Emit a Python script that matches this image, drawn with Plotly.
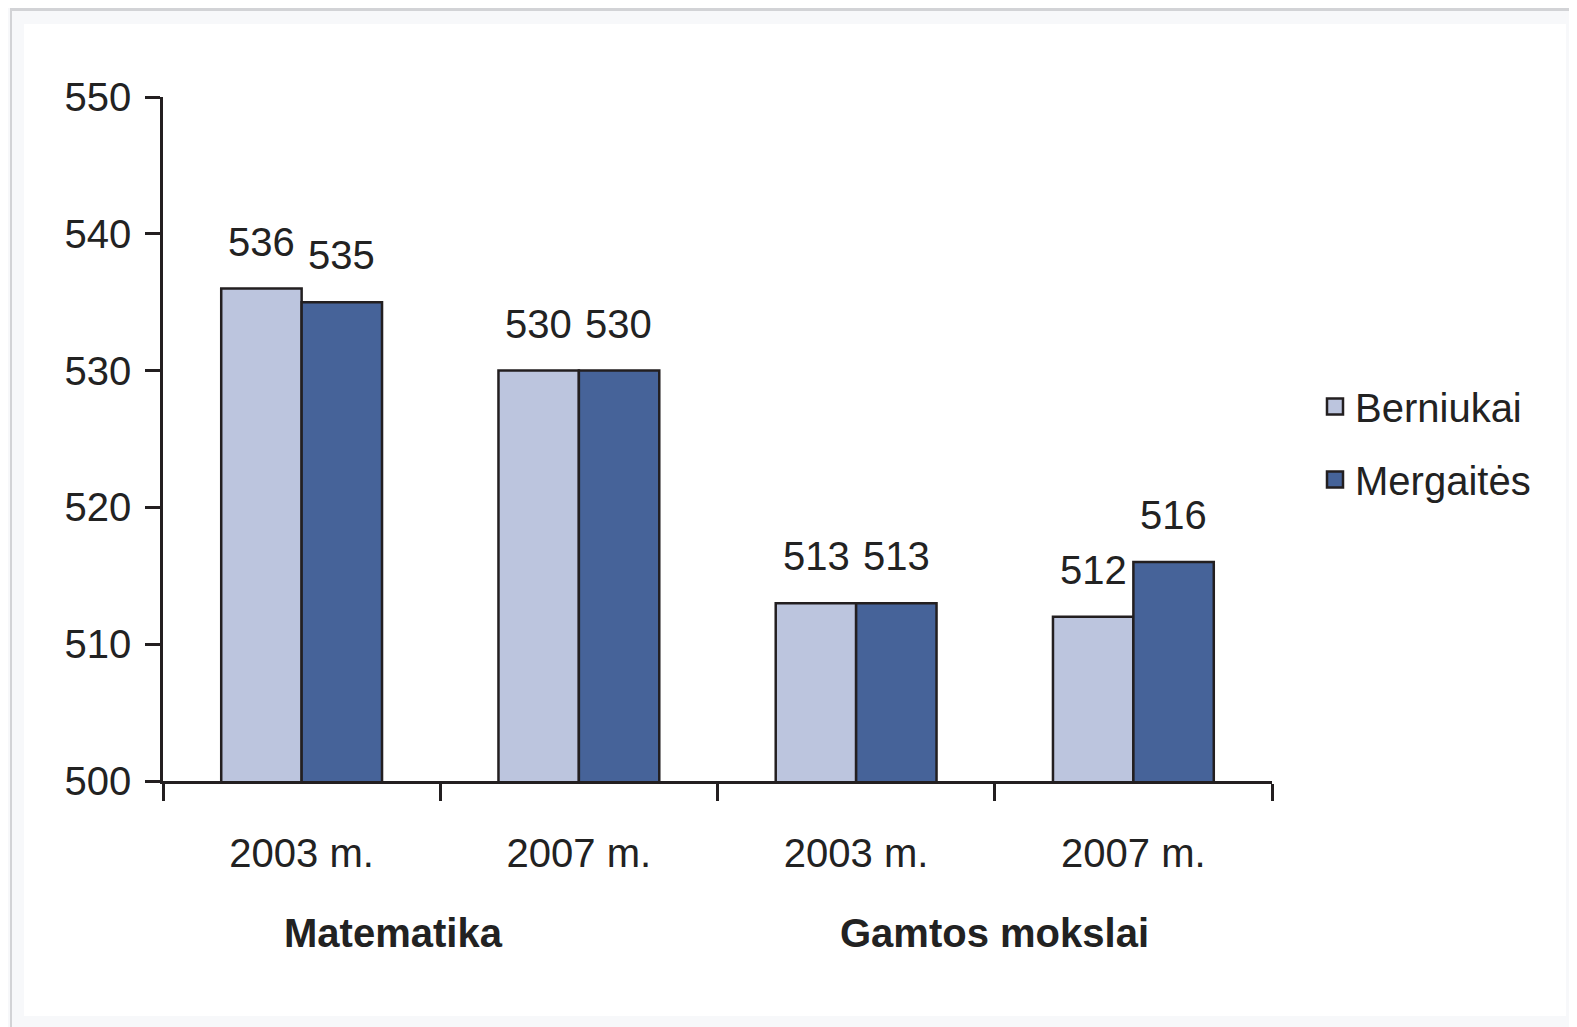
import plotly.graph_objects as go

groups = ["Matematika", "Matematika", "Gamtos mokslai", "Gamtos mokslai"]
years = ["2003 m.", "2007 m.", "2003 m.", "2007 m."]
berniukai = [536, 530, 513, 512]
mergaites = [535, 530, 513, 516]
series_names = ["Berniukai", "Mergaitės"]
group_labels = ["Matematika", "Gamtos mokslai"]
y_ticks = [500, 510, 520, 530, 540, 550]

cat_ids = [f"{g} {y}" for g, y in zip(groups, years)]

LIGHT = "#bcc5de"
DARK = "#466399"
EDGE = "#231f20"
TXT = "#222222"
FONT = "Liberation Sans, Arial, sans-serif"
FS = 40

fig = go.Figure()
for name, vals, col in [(series_names[0], berniukai, LIGHT), (series_names[1], mergaites, DARK)]:
    fig.add_trace(go.Bar(
        x=cat_ids, y=vals, name=name, showlegend=False,
        marker=dict(color=col, line=dict(color=EDGE, width=2.5)),
    ))
# legend entries
for i, (name, col) in enumerate([(series_names[0], LIGHT), (series_names[1], DARK)]):
    fig.add_trace(go.Scatter(
        x=[None], y=[None], mode="markers", name=name, legendgroup=f"g{i}",
        marker=dict(symbol="square", size=16, color=col, line=dict(color=EDGE, width=2.5)),
    ))

annotations = []
for vals, sh in [(berniukai, -40), (mergaites, 40)]:
    for c, v in zip(cat_ids, vals):
        annotations.append(dict(
            x=c, y=v, xref="x", yref="y", text=str(v), showarrow=False,
            xshift=sh, yshift=47, yanchor="middle", xanchor="center",
            font=dict(family=FONT, size=FS, color=TXT),
        ))

# figure is placed at (8, 8) in the page by the default body margin
OFF = 8
L, R, T, B = 163 - OFF, 1272 - OFF, 97 - OFF, 781 - OFF
W, H = 1577 - OFF, 1027 - OFF
pw, ph = R - L, B - T
def px(x): return (x - OFF - L) / pw
def py(y): return (B - (y - OFF)) / ph

for gl, gx in zip(group_labels, [0.33, 2.5]):
    annotations.append(dict(
        x=gx, y=py(933), xref="x", yref="paper", text=f"<b>{gl}</b>", showarrow=False,
        yanchor="middle", xanchor="center",
        font=dict(family=FONT, size=FS, color=TXT),
    ))

shapes = [
    dict(type="rect", xref="paper", yref="paper", layer="below",
         x0=px(24), x1=px(1566), y0=py(1016), y1=py(24),
         fillcolor="white", line=dict(width=0)),
    dict(type="rect", xref="paper", yref="paper", layer="below",
         x0=px(10), x1=px(1577), y0=py(11), y1=py(8),
         fillcolor="#d2d3d6", line=dict(width=0)),
    dict(type="rect", xref="paper", yref="paper", layer="below",
         x0=px(10), x1=px(12), y0=py(1027), y1=py(8),
         fillcolor="#d2d3d6", line=dict(width=0)),
]

fig.update_layout(
    width=W, height=H,
    margin=dict(l=L, r=W - R, t=T, b=H - B),
    paper_bgcolor="#f7f8fa", plot_bgcolor="white",
    barmode="group", bargap=0.42, bargroupgap=0,
    font=dict(family=FONT, size=FS, color=TXT),
    showlegend=True,
    legend=dict(x=px(1315), xanchor="left", y=py(443), yanchor="middle",
                font=dict(family=FONT, size=FS, color=TXT),
                tracegroupgap=18, bgcolor="rgba(0,0,0,0)"),
    annotations=annotations, shapes=shapes,
    xaxis=dict(type="category", range=[-0.5, 3.5], tickvals=cat_ids, ticktext=years,
               tickson="boundaries", ticks="outside", ticklen=17, tickwidth=2.5, tickcolor=EDGE,
               showline=True, linewidth=3, linecolor=EDGE, showgrid=False,
               ticklabelstandoff=35, tickfont=dict(family=FONT, size=FS, color=TXT)),
    yaxis=dict(range=[500, 550], tickvals=y_ticks, ticks="outside", ticklen=15, tickwidth=2.5,
               tickcolor=EDGE, showline=True, linewidth=2.5, linecolor=EDGE, showgrid=False,
               zeroline=False, ticklabelstandoff=6, tickfont=dict(family=FONT, size=FS, color=TXT)),
)

fig.write_html("out.html")
